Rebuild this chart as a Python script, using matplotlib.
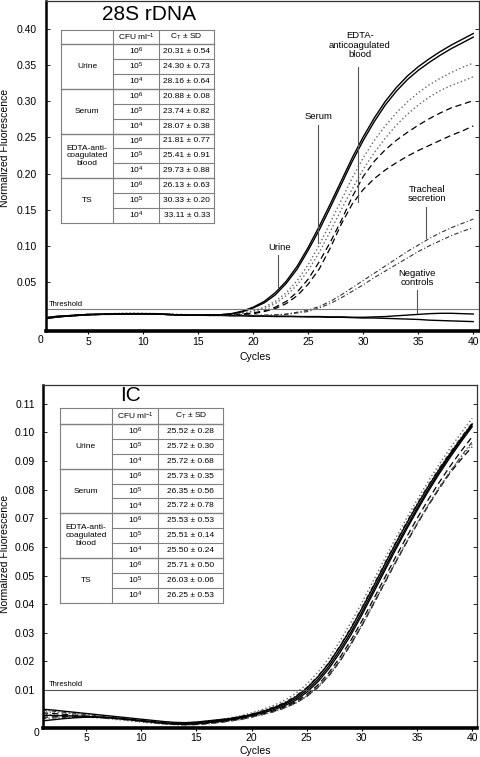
import matplotlib
matplotlib.use('Agg')
import matplotlib.pyplot as plt
from matplotlib.lines import Line2D

plt.rcParams['font.family'] = ['Liberation Sans', 'DejaVu Sans']
plt.rcParams['mathtext.fontset'] = 'custom'
plt.rcParams['mathtext.rm'] = 'Liberation Sans'
plt.rcParams['mathtext.it'] = 'Liberation Sans:italic'
plt.rcParams['mathtext.bf'] = 'Liberation Sans:bold'
plt.rcParams['mathtext.default'] = 'regular'

# ---------------- data ----------------
cycles = list(range(1, 41))

# 28S rDNA panel
urine_a = [0.000, 0.002, 0.003, 0.004, 0.005, 0.005, 0.0055, 0.006, 0.006, 0.006, 0.006, 0.005, 0.0045, 0.004, 0.004, 0.004, 0.0045, 0.006,
           0.0095, 0.015, 0.023, 0.035, 0.051, 0.072, 0.098, 0.127, 0.158, 0.190, 0.222, 0.251, 0.277, 0.300, 0.319, 0.335, 0.348, 0.359, 0.369, 0.378, 0.386, 0.394]
urine_b = [-0.001, 0.001, 0.0025, 0.0035, 0.0045, 0.005, 0.0055, 0.0055, 0.006, 0.006, 0.0055, 0.005, 0.0045, 0.004, 0.004, 0.004, 0.0045, 0.0055,
           0.0085, 0.014, 0.021, 0.032, 0.048, 0.068, 0.094, 0.122, 0.153, 0.185, 0.217, 0.246, 0.272, 0.295, 0.314, 0.330, 0.343, 0.354, 0.364, 0.373, 0.381, 0.389]
serum_a = [0.000, 0.002, 0.003, 0.004, 0.005, 0.0055, 0.006, 0.0065, 0.0065, 0.0065, 0.006, 0.0055, 0.005, 0.0045, 0.004, 0.004, 0.0045, 0.0055,
           0.007, 0.010, 0.015, 0.023, 0.035, 0.052, 0.074, 0.101, 0.132, 0.163, 0.194, 0.222, 0.246, 0.266, 0.284, 0.299, 0.312, 0.323, 0.332, 0.340, 0.347, 0.353]
serum_b = [-0.001, 0.0015, 0.003, 0.004, 0.005, 0.0055, 0.006, 0.006, 0.0065, 0.006, 0.006, 0.0055, 0.005, 0.0045, 0.004, 0.004, 0.0045, 0.005,
           0.0065, 0.009, 0.013, 0.020, 0.031, 0.046, 0.066, 0.091, 0.120, 0.150, 0.179, 0.206, 0.229, 0.249, 0.267, 0.282, 0.295, 0.306, 0.315, 0.322, 0.328, 0.334]
edta_a = [0.000, 0.002, 0.003, 0.004, 0.0045, 0.005, 0.0055, 0.006, 0.006, 0.006, 0.0055, 0.005, 0.0045, 0.004, 0.004, 0.004, 0.004, 0.0045,
          0.0055, 0.007, 0.010, 0.015, 0.023, 0.036, 0.054, 0.078, 0.105, 0.135, 0.168, 0.196, 0.217, 0.233, 0.246, 0.257, 0.267, 0.276, 0.284, 0.291, 0.296, 0.301]
edta_b = [-0.001, 0.0015, 0.0025, 0.0035, 0.0045, 0.005, 0.0055, 0.0055, 0.006, 0.0055, 0.0055, 0.005, 0.0045, 0.004, 0.004, 0.004, 0.004, 0.0045,
          0.005, 0.006, 0.009, 0.013, 0.020, 0.031, 0.047, 0.068, 0.097, 0.130, 0.158, 0.178, 0.193, 0.205, 0.215, 0.224, 0.232, 0.239, 0.246, 0.253, 0.259, 0.266]
trach_a = [0.000, 0.002, 0.003, 0.004, 0.0045, 0.005, 0.0055, 0.006, 0.006, 0.006, 0.0055, 0.005, 0.0045, 0.004, 0.004, 0.004, 0.004, 0.0045,
           0.0045, 0.004, 0.004, 0.0045, 0.0055, 0.008, 0.011, 0.016, 0.023, 0.032, 0.042, 0.052, 0.062, 0.072, 0.082, 0.092, 0.101, 0.110, 0.118, 0.125, 0.131, 0.137]
trach_b = [-0.001, 0.0015, 0.0025, 0.0035, 0.0045, 0.005, 0.0055, 0.0055, 0.006, 0.0055, 0.0055, 0.005, 0.0045, 0.004, 0.004, 0.004, 0.004, 0.004,
           0.004, 0.0035, 0.0035, 0.004, 0.005, 0.007, 0.009, 0.014, 0.020, 0.028, 0.037, 0.046, 0.056, 0.065, 0.074, 0.083, 0.092, 0.100, 0.107, 0.114, 0.120, 0.125]
neg_a = [0.000, 0.002, 0.003, 0.004, 0.005, 0.005, 0.0055, 0.006, 0.006, 0.006, 0.006, 0.005, 0.0045, 0.004, 0.004, 0.004, 0.004, 0.0035,
         0.0035, 0.003, 0.003, 0.0025, 0.0025, 0.002, 0.002, 0.002, 0.0015, 0.0015, 0.001, 0.001, 0.0015, 0.002, 0.003, 0.004, 0.005, 0.006, 0.0065, 0.0065, 0.006, 0.0055]
neg_b = [-0.001, 0.001, 0.0025, 0.0035, 0.0045, 0.005, 0.005, 0.0055, 0.0055, 0.0055, 0.0055, 0.005, 0.0045, 0.004, 0.004, 0.0035, 0.0035, 0.003,
         0.003, 0.0025, 0.0025, 0.002, 0.002, 0.002, 0.0015, 0.0015, 0.001, 0.001, 0.0005, 0.000, 0.000, -0.0005, -0.001, -0.0015, -0.002, -0.003, -0.0035, -0.004, -0.0045, -0.005]

# IC panel
ic_s1 = [0.0033, 0.0030, 0.0026, 0.0022, 0.0018, 0.0014, 0.0010, 0.0006, 0.0002, -0.0002, -0.0006, -0.0010, -0.0013, -0.0014, -0.0012, -0.0008, -0.0004, 0.0000, 0.0006, 0.0014,
         0.0024, 0.0036, 0.0050, 0.0070, 0.0099, 0.0136, 0.0183, 0.0240, 0.0302, 0.0372, 0.0446, 0.0521, 0.0595, 0.0666, 0.0735, 0.0800, 0.0862, 0.0920, 0.0974, 0.1027]
ic_s2 = [-0.0008, -0.0004, 0.0000, 0.0003, 0.0005, 0.0005, 0.0003, 0.0000, -0.0004, -0.0008, -0.0012, -0.0016, -0.0019, -0.0020, -0.0018, -0.0014, -0.0010, -0.0005, 0.0002, 0.0010,
         0.0020, 0.0031, 0.0045, 0.0064, 0.0092, 0.0128, 0.0174, 0.0230, 0.0292, 0.0362, 0.0436, 0.0511, 0.0586, 0.0658, 0.0727, 0.0793, 0.0855, 0.0913, 0.0968, 0.1020]
ic_s3 = [0.0012, 0.0011, 0.0010, 0.0009, 0.0008, 0.0006, 0.0004, 0.0001, -0.0003, -0.0007, -0.0011, -0.0015, -0.0017, -0.0017, -0.0015, -0.0011, -0.0007, -0.0002, 0.0005, 0.0014,
         0.0025, 0.0038, 0.0054, 0.0076, 0.0106, 0.0145, 0.0193, 0.0251, 0.0314, 0.0384, 0.0458, 0.0533, 0.0607, 0.0678, 0.0746, 0.0810, 0.0870, 0.0926, 0.0979, 0.1030]
ic_d1 = [0.0025, 0.0022, 0.0019, 0.0016, 0.0012, 0.0009, 0.0005, 0.0001, -0.0003, -0.0007, -0.0011, -0.0014, -0.0016, -0.0016, -0.0013, -0.0009, -0.0004, 0.0002, 0.0010, 0.0020,
         0.0032, 0.0046, 0.0064, 0.0088, 0.0120, 0.0161, 0.0211, 0.0270, 0.0335, 0.0405, 0.0479, 0.0553, 0.0626, 0.0696, 0.0764, 0.0828, 0.0888, 0.0945, 0.0998, 0.1050]
ic_d2 = [0.0015, 0.0013, 0.0011, 0.0009, 0.0006, 0.0003, 0.0000, -0.0004, -0.0008, -0.0012, -0.0016, -0.0019, -0.0021, -0.0022, -0.0021, -0.0018, -0.0014, -0.0009, -0.0003, 0.0005,
         0.0014, 0.0025, 0.0038, 0.0055, 0.0079, 0.0111, 0.0153, 0.0205, 0.0264, 0.0330, 0.0401, 0.0474, 0.0546, 0.0616, 0.0683, 0.0747, 0.0808, 0.0864, 0.0914, 0.0960]
ic_e1 = [0.0005, 0.0006, 0.0007, 0.0007, 0.0006, 0.0004, 0.0002, -0.0001, -0.0005, -0.0009, -0.0013, -0.0017, -0.0019, -0.0020, -0.0019, -0.0016, -0.0012, -0.0007, -0.0001, 0.0007,
         0.0016, 0.0027, 0.0041, 0.0059, 0.0084, 0.0117, 0.0160, 0.0213, 0.0273, 0.0341, 0.0413, 0.0487, 0.0560, 0.0631, 0.0699, 0.0764, 0.0825, 0.0882, 0.0935, 0.0985]
ic_e2 = [0.0020, 0.0018, 0.0015, 0.0012, 0.0009, 0.0006, 0.0003, -0.0001, -0.0005, -0.0009, -0.0013, -0.0017, -0.0020, -0.0021, -0.0020, -0.0017, -0.0013, -0.0008, -0.0002, 0.0006,
         0.0015, 0.0025, 0.0038, 0.0055, 0.0078, 0.0109, 0.0150, 0.0201, 0.0260, 0.0326, 0.0397, 0.0470, 0.0542, 0.0612, 0.0679, 0.0743, 0.0803, 0.0859, 0.0906, 0.0950]
ic_f1 = [0.0030, 0.0026, 0.0022, 0.0018, 0.0014, 0.0010, 0.0006, 0.0002, -0.0002, -0.0006, -0.0010, -0.0013, -0.0015, -0.0015, -0.0013, -0.0009, -0.0005, 0.0001, 0.0008, 0.0017,
         0.0028, 0.0041, 0.0057, 0.0079, 0.0109, 0.0148, 0.0196, 0.0254, 0.0318, 0.0389, 0.0463, 0.0538, 0.0612, 0.0683, 0.0751, 0.0815, 0.0875, 0.0931, 0.0983, 0.1034]
ic_f2 = [0.0000, 0.0002, 0.0004, 0.0005, 0.0005, 0.0004, 0.0002, -0.0001, -0.0005, -0.0009, -0.0013, -0.0017, -0.0020, -0.0022, -0.0021, -0.0018, -0.0014, -0.0009, -0.0003, 0.0005,
         0.0014, 0.0024, 0.0037, 0.0054, 0.0077, 0.0108, 0.0148, 0.0199, 0.0258, 0.0324, 0.0395, 0.0468, 0.0541, 0.0612, 0.0680, 0.0745, 0.0806, 0.0863, 0.0917, 0.0968]

threshold_28s = 0.012
threshold_ic = 0.010

yticks_28s = [0.05, 0.10, 0.15, 0.20, 0.25, 0.30, 0.35, 0.40]
yticks_ic = [0.01, 0.02, 0.03, 0.04, 0.05, 0.06, 0.07, 0.08, 0.09, 0.10, 0.11]
xticks = [5, 10, 15, 20, 25, 30, 35, 40]

# tables
sample_groups = ['Urine', 'Serum', 'EDTA-anti-\ncoagulated\nblood', 'TS']
cfu_labels = ['10$^{6}$', '10$^{5}$', '10$^{4}$']
ct_28s = ['20.31 ± 0.54', '24.30 ± 0.73', '28.16 ± 0.64',
          '20.88 ± 0.08', '23.74 ± 0.82', '28.07 ± 0.38',
          '21.81 ± 0.77', '25.41 ± 0.91', '29.73 ± 0.88',
          '26.13 ± 0.63', '30.33 ± 0.20', '33.11 ± 0.33']
ct_ic = ['25.52 ± 0.28', '25.72 ± 0.30', '25.72 ± 0.68',
         '25.73 ± 0.35', '26.35 ± 0.56', '25.72 ± 0.78',
         '25.53 ± 0.53', '25.51 ± 0.14', '25.50 ± 0.24',
         '25.71 ± 0.50', '26.03 ± 0.06', '26.25 ± 0.53']

# ---------------- figure ----------------
W, H = 480, 757
fig = plt.figure(figsize=(4.8, 7.57), dpi=100)


def fx(x):
    return x / W


def fy(y):
    return 1 - y / H


def make_axes(l, t, r, b):
    return fig.add_axes([fx(l), fy(b), (r - l) / W, (b - t) / H])


ax1 = make_axes(46, 1, 479, 331.5)
ax2 = make_axes(43, 385, 477, 727.5)

SOLID = dict(color='black', lw=1.0, ls='-')
DOT = dict(color='#666666', lw=1.0, ls=(0, (1, 1.8)))
DASH = dict(color='black', lw=0.9, ls=(0, (5, 3)))
DASHDOT = dict(color='#333333', lw=0.8, ls=(0, (4, 2, 1, 2)))

for ys, st in [(neg_a, SOLID), (neg_b, SOLID), (trach_a, DASHDOT), (trach_b, DASHDOT),
               (edta_a, DASH), (edta_b, DASH), (serum_a, DOT), (serum_b, DOT),
               (urine_a, SOLID), (urine_b, SOLID)]:
    ax1.plot(cycles, ys, **st)

for ys, st in [(ic_e1, DASH), (ic_e2, DASH), (ic_f1, DASHDOT), (ic_f2, DASHDOT),
               (ic_d1, DOT), (ic_d2, DOT), (ic_s1, SOLID), (ic_s2, SOLID), (ic_s3, SOLID)]:
    ax2.plot(cycles, ys, **st)

ax1.axhline(threshold_28s, color='#7a7a7a', lw=0.8)
ax2.axhline(threshold_ic, color='#555555', lw=0.8)
ax1.text(1.4, threshold_28s + 0.0025, 'Threshold', fontsize=5.5, va='bottom', ha='left')
ax2.text(1.6, threshold_ic + 0.0006, 'Threshold', fontsize=5.5, va='bottom', ha='left')

ax1.set_xlim(1.155, 40.52)
ax1.set_ylim(-0.0187, 0.439)
ax2.set_xlim(1.097, 40.44)
ax2.set_ylim(-0.0031, 0.1166)

for ax, yt, ypad in [(ax1, yticks_28s, 6.5), (ax2, yticks_ic, 5.8)]:
    ax.set_xticks(xticks)
    ax.set_xticklabels([str(v) for v in xticks])
    ax.set_yticks(yt)
    ax.set_yticklabels(['%.2f' % v for v in yt])
    ax.tick_params(axis='x', direction='out', length=2, width=0.8, pad=2, labelsize=7.5)
    ax.tick_params(axis='y', direction='in', length=3, width=0.6, pad=ypad, labelsize=7.5,
                   right=True, left=True)
    ax.spines['left'].set_linewidth(1.8)
    ax.spines['bottom'].set_linewidth(2.6)
    ax.spines['top'].set_linewidth(0.9)
    ax.spines['right'].set_linewidth(0.9)
    ax.spines['top'].set_color('#333333')
    ax.spines['right'].set_color('#333333')

# axis labels
fig.text(fx(5.5), fy(148), 'Normalized Fluorescence', rotation=90, fontsize=7.5, ha='center', va='center')
fig.text(fx(5.5), fy(554), 'Normalized Fluorescence', rotation=90, fontsize=7.5, ha='center', va='center')
fig.text(fx(255), fy(357), 'Cycles', fontsize=7.5, ha='center', va='center')
fig.text(fx(255), fy(751.5), 'Cycles', fontsize=7.5, ha='center', va='center')
fig.text(fx(41), fy(340), '0', fontsize=7.5, ha='center', va='center')
fig.text(fx(37), fy(733), '0', fontsize=7.5, ha='center', va='center')

# titles
fig.text(fx(149), fy(14), '28S rDNA', fontsize=15, ha='center', va='center')
fig.text(fx(131), fy(395), 'IC', fontsize=15, ha='center', va='center')

# annotations on 28S panel
ann_color = '#555555'
ax1.text(29.7, 0.378, 'EDTA-\nanticoagulated\nblood', fontsize=6.8, ha='center', va='center', linespacing=1.05)
ax1.plot([29.55, 29.55], [0.348, 0.161], color=ann_color, lw=0.8)
ax1.text(25.97, 0.279, 'Serum', fontsize=6.8, ha='center', va='center')
ax1.plot([25.9, 25.9], [0.267, 0.104], color=ann_color, lw=0.8)
ax1.text(22.36, 0.098, 'Urine', fontsize=6.8, ha='center', va='center')
ax1.plot([22.25, 22.25], [0.087, 0.043], color=ann_color, lw=0.8)
ax1.text(35.76, 0.172, 'Tracheal\nsecretion', fontsize=6.8, ha='center', va='center', linespacing=1.05)
ax1.plot([35.7, 35.7], [0.154, 0.111], color=ann_color, lw=0.8)
ax1.text(34.9, 0.055, 'Negative\ncontrols', fontsize=6.8, ha='center', va='center', linespacing=1.05)
ax1.plot([34.88, 34.88], [0.039, 0.007], color=ann_color, lw=0.8)


# tables
def line(x0, y0, x1, y1, lw=0.8, color='#808080'):
    fig.add_artist(Line2D([fx(x0), fx(x1)], [fy(y0), fy(y1)], transform=fig.transFigure,
                          color=color, lw=lw))


def draw_table(xc, ytop, yhead, ybot, values):
    rh = (ybot - yhead) / 12.0
    x0, x1, x2, x3 = xc
    line(x0, ytop, x3, ytop)
    line(x0, ybot, x3, ybot)
    line(x0, ytop, x0, ybot)
    line(x3, ytop, x3, ybot)
    line(x1, ytop, x1, ybot)
    line(x2, ytop, x2, ybot)
    line(x0, yhead, x3, yhead, lw=1.0)
    for i in range(1, 12):
        yy = yhead + i * rh
        if i % 3 == 0:
            line(x0, yy, x3, yy, lw=1.0)
        else:
            line(x1, yy, x3, yy)
    fs = 6
    fig.text(fx((x1 + x2) / 2), fy((ytop + yhead) / 2), 'CFU ml$^{-1}$', fontsize=fs, ha='center', va='center')
    fig.text(fx((x2 + x3) / 2), fy((ytop + yhead) / 2), 'C$_{T}$ ± SD', fontsize=fs, ha='center', va='center')
    for g, name in enumerate(sample_groups):
        yc = yhead + (g * 3 + 1.5) * rh
        fig.text(fx((x0 + x1) / 2), fy(yc), name, fontsize=fs, ha='center', va='center', linespacing=1.15)
        for k in range(3):
            yr = yhead + (g * 3 + k + 0.5) * rh
            fig.text(fx((x1 + x2) / 2), fy(yr), cfu_labels[k], fontsize=fs, ha='center', va='center')
            fig.text(fx((x2 + x3) / 2), fy(yr), values[g * 3 + k], fontsize=fs, ha='center', va='center')


draw_table((60.7, 113.3, 159.3, 214), 30, 44.3, 222.7, ct_28s)
draw_table((60, 111.7, 158.3, 223.3), 408.3, 424, 602.7, ct_ic)

fig.savefig('out.png', dpi=100)
